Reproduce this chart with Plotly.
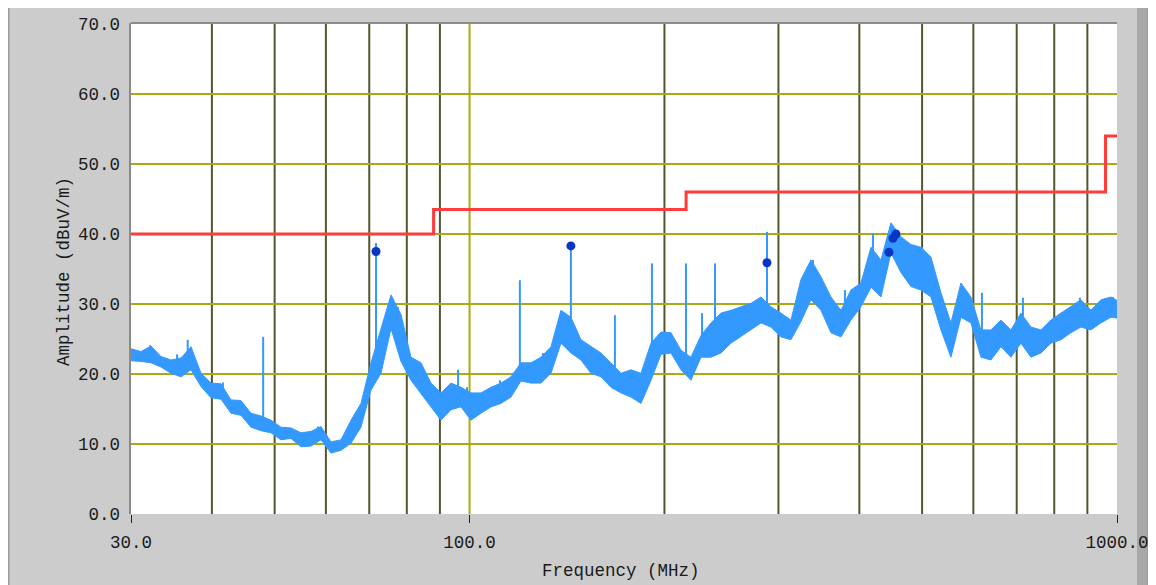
import plotly.graph_objects as go

# ---------------- data ----------------
freq_mhz = [30.0, 31.09, 32.21, 33.38, 34.59, 35.84, 37.14, 38.48, 39.87, 41.32,
            42.81, 44.36, 45.97, 47.63, 49.36, 51.14, 52.99, 54.91, 56.90, 58.96,
            61.10, 63.31, 65.60, 67.97, 70.43, 72.98, 75.63, 78.36, 81.20, 84.14,
            87.19, 90.34, 93.61, 97.00, 100.51, 104.15, 107.92, 111.83, 115.88, 120.07,
            124.42, 128.92, 133.59, 138.42, 143.44, 148.63, 154.01, 159.59, 165.36, 171.35,
            177.55, 183.97, 190.64, 197.54, 204.69, 212.11, 219.78, 227.74, 235.98, 244.52,
            253.38, 262.54, 272.05, 281.90, 292.10, 302.68, 313.63, 325.00, 336.75, 348.94,
            361.57, 374.67, 388.24, 402.28, 416.86, 431.94, 447.57, 463.78, 480.56, 497.95,
            515.98, 534.66, 554.00, 574.05, 594.84, 616.35, 638.72, 661.82, 685.77, 710.61,
            736.31, 762.97, 790.59, 819.20, 848.84, 879.58, 911.42, 944.40, 978.58, 1000.0]

amp_max = [23.6, 23.2, 24.0, 22.5, 22.0, 22.3, 23.9, 20.1, 18.7, 18.6,
           16.3, 16.2, 14.4, 14.0, 13.4, 12.4, 12.3, 11.6, 11.8, 12.5,
           10.3, 10.6, 13.4, 15.8, 21.6, 26.3, 31.3, 28.5, 22.4, 21.6,
           18.7, 17.3, 18.7, 18.1, 17.3, 17.3, 18.1, 18.7, 19.6, 21.6,
           21.6, 22.4, 23.9, 29.1, 28.1, 24.9, 23.9, 23.0, 21.6, 20.1,
           20.6, 20.1, 24.4, 26.0, 25.9, 23.4, 22.4, 25.5, 27.3, 28.7,
           29.1, 29.6, 30.1, 31.0, 29.6, 28.7, 27.7, 33.5, 36.3, 33.9,
           31.0, 29.1, 32.0, 33.0, 38.1, 36.3, 41.6, 39.6, 38.5, 38.1,
           36.7, 31.6, 27.3, 33.0, 31.0, 26.3, 26.3, 27.7, 26.3, 28.7,
           26.7, 26.3, 27.7, 28.7, 29.6, 30.6, 29.1, 30.6, 31.0, 30.5]

amp_min = [21.9, 21.8, 21.6, 21.0, 20.1, 19.6, 20.6, 18.2, 16.6, 16.4,
           14.4, 14.1, 12.4, 11.9, 11.6, 10.6, 10.8, 9.6, 9.7, 10.6,
           8.7, 9.1, 10.1, 12.4, 17.7, 20.1, 26.5, 21.8, 19.1, 17.3,
           15.3, 13.4, 14.9, 15.3, 13.4, 14.4, 15.3, 15.8, 16.7, 19.0,
           18.7, 18.7, 20.1, 24.4, 23.0, 22.0, 20.1, 19.6, 18.1, 17.3,
           16.7, 15.8, 19.1, 22.8, 23.0, 20.6, 19.1, 22.4, 22.4, 23.0,
           24.4, 25.3, 26.3, 27.3, 26.7, 25.3, 24.9, 27.5, 30.6, 29.1,
           25.9, 25.3, 27.7, 29.6, 32.4, 31.0, 37.3, 34.5, 32.5, 32.0,
           31.0, 26.3, 22.4, 28.1, 27.3, 22.4, 22.0, 23.9, 22.4, 24.4,
           22.4, 23.0, 24.4, 24.9, 25.9, 26.7, 26.3, 27.3, 28.1, 28.0]

spike_freq = [32.10, 35.34, 36.7, 41.6, 43.89, 48.0, 58.33, 71.7, 77.5, 83.84,
              96.0, 99.1, 111.4, 119.6, 129.8, 143.4, 167.7, 191.3, 215.9, 228.6,
              239.4, 288.0, 339.1, 380.0, 419.8, 499.7, 618.6, 715.7, 876.4, 985.5]
spike_base = [22.0, 20.5, 21.5, 16.5, 14.5, 12.5, 10.5, 21.0, 25.0, 18.0,
              16.5, 15.0, 16.0, 20.0, 19.5, 25.0, 19.5, 22.0, 21.0, 24.0,
              24.0, 29.0, 31.0, 27.0, 33.0, 33.0, 24.0, 27.0, 28.0, 28.5]
spike_top = [24.1, 22.8, 24.9, 18.8, 16.3, 25.3, 12.5, 38.7, 29.6, 21.6,
             20.6, 18.1, 19.1, 33.4, 23.0, 38.4, 28.4, 35.8, 35.8, 28.7,
             35.8, 40.3, 36.3, 32.0, 40.1, 38.1, 31.6, 30.9, 30.9, 31.0]

peak_freq = [71.7, 143.4, 288.0, 444.4, 450.8, 455.6]
peak_amp = [37.5, 38.3, 35.9, 37.4, 39.4, 40.0]

limit_freq = [30, 88, 216, 960, 1000]
limit_val = [40.0, 43.5, 46.0, 54.0, 54.0]

y_ticks = [0, 10, 20, 30, 40, 50, 60, 70]
y_tick_text = ["0.0", "10.0", "20.0", "30.0", "40.0", "50.0", "60.0", "70.0"]
x_ticks = [30, 100, 1000]
x_tick_text = ["30.0", "100.0", "1000.0"]
grid_dark = [40, 50, 60, 70, 80, 90, 200, 300, 400, 500, 600, 700, 800, 900]
grid_yellow_x = [100]
grid_yellow_y = [10, 20, 30, 40, 50, 60]

# ---------------- styling ----------------
BLUE = "#3399ff"
FONT = "Liberation Mono"
YEL = "#aaaa12"
DARK = "#55552c"

fig = go.Figure()

# measured spectrum: max/min envelope band
fig.add_trace(go.Scatter(
    x=freq_mhz + freq_mhz[::-1],
    y=amp_max + amp_min[::-1],
    fill="toself", fillcolor=BLUE, mode="lines",
    line=dict(color=BLUE, width=1), hoverinfo="skip", showlegend=False))

# narrow spikes
sx, sy = [], []
for f, b, t in zip(spike_freq, spike_base, spike_top):
    sx += [f, f, None]
    sy += [b, t, None]
fig.add_trace(go.Scatter(x=sx, y=sy, mode="lines",
                         line=dict(color=BLUE, width=2), showlegend=False))

# limit line
fig.add_trace(go.Scatter(x=limit_freq, y=limit_val, mode="lines",
                         line=dict(color="#ff3b3b", width=3, shape="hv"),
                         showlegend=False))

# peak markers
fig.add_trace(go.Scatter(x=peak_freq, y=peak_amp, mode="markers",
                         marker=dict(color="#0a34c4", size=9), showlegend=False))

shapes = []
for g in grid_dark:
    shapes.append(dict(type="line", xref="x", yref="paper", x0=g, x1=g, y0=0, y1=1,
                       line=dict(color=DARK, width=2), layer="below"))
for g in grid_yellow_x:
    shapes.append(dict(type="line", xref="x", yref="paper", x0=g, x1=g, y0=0, y1=1,
                       line=dict(color=YEL, width=2), layer="below"))
for g in grid_yellow_y:
    shapes.append(dict(type="line", xref="paper", yref="y", x0=0, x1=1, y0=g, y1=g,
                       line=dict(color=YEL, width=2), layer="below"))
# plot border
shapes.append(dict(type="line", xref="paper", yref="paper", x0=0, x1=1, y0=1.002, y1=1.002,
                   line=dict(color="#8a8a8a", width=2)))
shapes.append(dict(type="line", xref="paper", yref="paper", x0=-0.001, x1=-0.001, y0=0, y1=1.002,
                   line=dict(color="#8a8a8a", width=2)))
# window frame decorations
shapes.append(dict(type="line", xref="paper", yref="paper", x0=-0.1243, x1=-0.1243,
                   y0=-0.16, y1=1.04, line=dict(color="#9a9a9a", width=2)))
shapes.append(dict(type="rect", xref="paper", yref="paper", x0=1.0203, x1=1.0304,
                   y0=-0.16, y1=1.04, fillcolor="#a8a8a8", line=dict(width=0), layer="below"))
shapes.append(dict(type="rect", xref="paper", yref="paper", x0=1.0304, x1=1.0400,
                   y0=-0.16, y1=1.04, fillcolor="#9c9c9c", line=dict(width=0), layer="below"))

fig.update_layout(
    width=1148, height=577,
    margin=dict(l=123, r=39, t=16, b=71, autoexpand=False),
    paper_bgcolor="#cccccc", plot_bgcolor="#ffffff",
    showlegend=False,
    shapes=shapes,
    font=dict(family=FONT, size=17, color="#1a1a1a"),
    xaxis=dict(type="log", range=[1.4771213, 3.0], tickvals=x_ticks, ticktext=x_tick_text,
               ticks="outside", ticklen=8, tickwidth=1, tickcolor="#222222",
               showgrid=False, zeroline=False, showline=False, ticklabelstandoff=4,
               tickfont=dict(family=FONT, size=17.5, color="#1a1a1a")),
    yaxis=dict(range=[0, 70], tickvals=y_ticks, ticktext=y_tick_text, ticks="",
               showgrid=False, zeroline=False, showline=False, ticklabelstandoff=10,
               tickfont=dict(family=FONT, size=17.5, color="#1a1a1a")),
    annotations=[
        dict(text="Frequency (MHz)", xref="paper", yref="paper", x=0.497, y=-0.116,
             xanchor="center", yanchor="middle", showarrow=False,
             font=dict(family=FONT, size=17.5, color="#1a1a1a")),
        dict(text="Amplitude (dBuV/m)", xref="paper", yref="paper", x=-0.068, y=0.496,
             xanchor="center", yanchor="middle", showarrow=False, textangle=-90,
             font=dict(family=FONT, size=17.5, color="#1a1a1a")),
    ],
)

fig.write_html("out.html")
